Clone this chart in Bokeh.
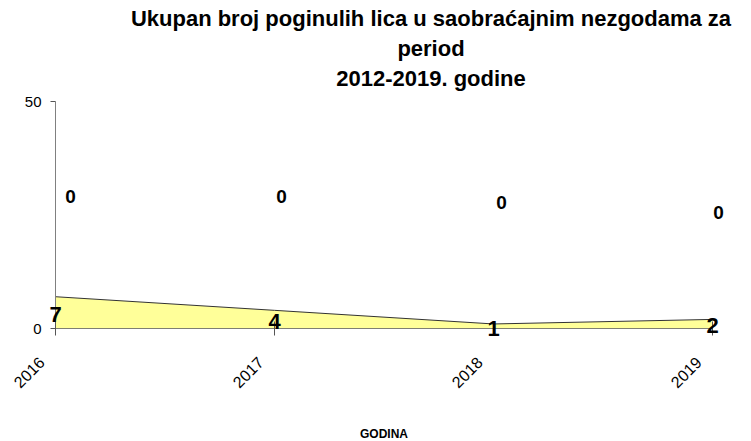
import math
from bokeh.plotting import figure
from bokeh.models import ColumnDataSource, FixedTicker, Range1d, Span
from bokeh.core.properties import value
from bokeh.embed import file_html
from bokeh.resources import INLINE

# ---- data ----
years = [2016, 2017, 2018, 2019]
year_labels = ["2016", "2017", "2018", "2019"]
deaths = [7, 4, 1, 2]
second_series = [0, 0, 0, 0]
y_ticks = [0, 50]
title_lines = ["Ukupan broj poginulih lica u saobraćajnim nezgodama za",
               "period",
               "2012-2019. godine"]
x_axis_title = "GODINA"

# ---- style (placement offsets, in screen pixels) ----
zero_label_y = [29.0, 29.0, 27.8, 25.5]
zero_label_dx = [15, 7, 8, 6]
title_dy = [-83, -53, -23]
title_dx = 47

FONT = "Liberation Sans"

p = figure(width=751, height=441, output_backend="svg", toolbar_location=None,
           x_range=Range1d(years[0], years[-1]), y_range=Range1d(y_ticks[0], y_ticks[-1]),
           min_border_left=55, min_border_right=39, min_border_top=101, min_border_bottom=113)
p.outline_line_color = None
p.background_fill_color = "white"

src = ColumnDataSource(dict(
    x=years, y=deaths, zero=second_series,
    ymid=[v / 2 for v in deaths],
    lab=[str(v) for v in deaths],
    zlab=[str(v) for v in second_series],
    zy=zero_label_y, zdx=zero_label_dx,
    ylab=year_labels,
))

p.varea(x="x", y1="zero", y2="y", source=src, fill_color="#FFFF99")
p.line(x="x", y="y", source=src, line_color="#333333", line_width=1)

# x axis line and tick marks
p.add_layout(Span(location=y_ticks[0], dimension="width", line_color="black", line_width=1))
tk = p.scatter(x="x", y="zero", source=src, marker="dash", angle=math.pi / 2, size=14,
               line_color="#555555", line_width=1)
tk.level = "overlay"

t1 = p.text(x="x", y="ymid", text="lab", source=src, text_align="center",
            text_baseline="middle", y_offset=2, text_font=value(FONT),
            text_font_style="bold", text_font_size="22px", text_color="black")
t1.level = "overlay"
t2 = p.text(x="x", y="zy", text="zlab", source=src, x_offset="zdx", text_align="center",
            text_baseline="middle", text_font=value(FONT),
            text_font_style="bold", text_font_size="19px", text_color="black")
t2.level = "overlay"

# x tick labels (rotated, shifted like the original)
t3 = p.text(x="x", y="zero", text="ylab", source=src, angle=math.pi / 4,
            text_align="right", text_baseline="middle", x_offset=-14, y_offset=31,
            text_font=value(FONT), text_font_size="16px", text_color="black")
t3.level = "overlay"

# x axis title
mid_x = (years[0] + years[-1]) / 2
t4 = p.text(x=[mid_x], y=[y_ticks[0]], text=[x_axis_title], text_align="center",
            text_baseline="middle", y_offset=105, text_font=value(FONT),
            text_font_style="bold", text_font_size="12px", text_color="black")
t4.level = "overlay"

# chart title
t5 = p.text(x=[mid_x] * len(title_lines), y=[y_ticks[-1]] * len(title_lines),
            text=title_lines, x_offset=title_dx, y_offset=title_dy,
            text_align="center", text_baseline="middle", text_font=value(FONT),
            text_font_style="bold", text_font_size="22px", text_color="black")
t5.level = "overlay"

# axes
p.xaxis.visible = False

p.yaxis.ticker = FixedTicker(ticks=y_ticks)
p.yaxis.axis_line_color = "#808080"
p.yaxis.major_tick_line_color = "#555555"
p.yaxis.major_tick_out = 5
p.yaxis.major_tick_in = 0
p.yaxis.minor_tick_line_color = None
p.yaxis.major_label_text_font = FONT
p.yaxis.major_label_text_font_size = "15px"
p.yaxis.major_label_text_color = "black"
p.yaxis.major_label_standoff = 9

p.xgrid.visible = False
p.ygrid.ticker = FixedTicker(ticks=[y_ticks[-1]])
p.ygrid.grid_line_color = "#c0c0c0"

open("out.html", "w").write(file_html(p, INLINE))
